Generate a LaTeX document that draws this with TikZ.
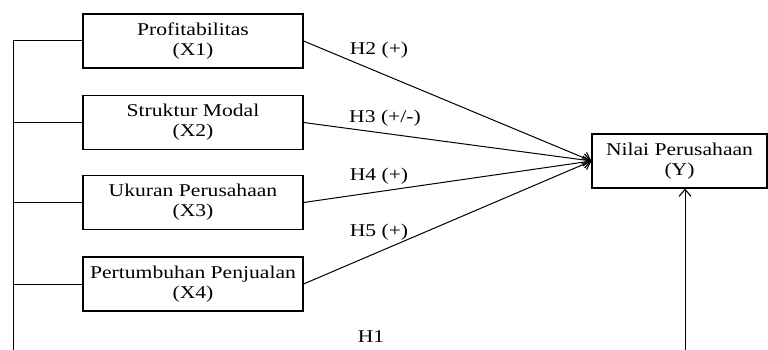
\documentclass[tikz,border=0pt]{standalone}
\usepackage{fontspec}
\setmainfont[FakeStretch=1.2]{Liberation Serif}
\usetikzlibrary{arrows.meta}
\begin{document}
\begin{tikzpicture}[x=1pt,y=-1pt,
  varbox/.style={draw,line width=1.1pt,minimum width=220pt,minimum height=54pt,align=center,font=\fontsize{18}{20}\selectfont,inner sep=0pt},
  lab/.style={font=\fontsize{18}{20}\selectfont,inner sep=0pt},
  conn/.style={line width=1pt},
  arr/.style={conn,-{Straight Barb[length=7pt,width=12pt,line width=1.1pt]}}]
\useasboundingbox (0,0) rectangle (768,350);
\node[varbox] (x1) at (193,41) {Profitabilitas\\(X1)};
\node[varbox] (x2) at (193,122.5) {Struktur Modal\\(X2)};
\node[varbox] (x3) at (193,202.5) {Ukuran Perusahaan\\(X3)};
\node[varbox] (x4) at (193,284) {Pertumbuhan Penjualan\\(X4)};
\node[varbox,minimum width=175pt] (y) at (679.5,161) {Nilai Perusahaan\\(Y)};
\coordinate (lb) at (13,350);
\coordinate (bb) at (685,350);
\draw[conn] (x1.west) -| (lb);
\draw[conn] (x2.west) -- (x2.west -| lb);
\draw[conn] (x3.west) -- (x3.west -| lb);
\draw[conn] (x4.west) -- (x4.west -| lb);
\draw[arr] (x1.east) -- (y.west);
\draw[arr] (x2.east) -- (y.west);
\draw[arr] (x3.east) -- (y.west);
\draw[arr] (x4.east) -- (y.west);
\draw[arr] (bb) -- (bb |- y.south);
\node[lab] (h2) at (379,50) {H2 (+)};
\node[lab] (h3) at (385,118) {H3 (+/-)};
\node[lab] (h4) at (379,176) {H4 (+)};
\node[lab] (h5) at (379,232) {H5 (+)};
\node[lab] (h1) at (371,337) {H1};
\end{tikzpicture}
\end{document}
